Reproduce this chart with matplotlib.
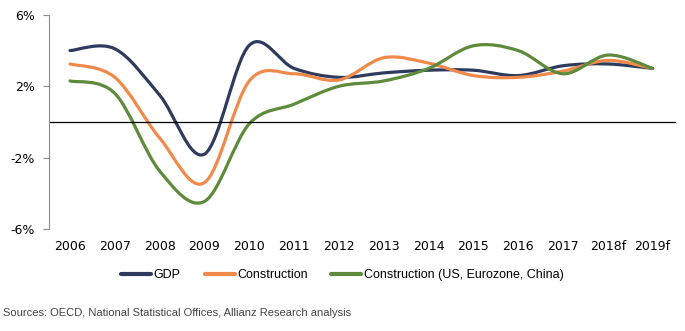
import numpy as np
import matplotlib.pyplot as plt
from matplotlib.path import Path
from matplotlib.patches import PathPatch
from matplotlib.lines import Line2D

years = ['2006', '2007', '2008', '2009', '2010', '2011', '2012', '2013',
         '2014', '2015', '2016', '2017', '2018f', '2019f']
gdp = [4.0, 4.1, 1.5, -1.8, 4.3, 3.0, 2.5, 2.75, 2.9, 2.9, 2.6, 3.15, 3.25, 3.0]
construction = [3.25, 2.5, -0.9, -3.4, 2.3, 2.7, 2.35, 3.6, 3.3, 2.6, 2.5, 2.85, 3.45, 3.0]
construction_big3 = [2.3, 1.6, -2.75, -4.45, -0.1, 1.0, 2.0, 2.3, 3.0, 4.27, 4.0, 2.7, 3.75, 3.0]

series = [('GDP', gdp, '#2f3b5e'),
          ('Construction', construction, '#f08a4b'),
          ('Construction (US, Eurozone, China)', construction_big3, '#5e8a3c')]


def smooth_path(xs, ys, tension=1 / 6):
    # cubic bezier through every point, excel-style smoothing
    pts = np.column_stack([xs, ys])
    verts = [pts[0]]
    codes = [Path.MOVETO]
    n = len(pts)
    for i in range(n - 1):
        p0 = pts[i - 1] if i > 0 else pts[i]
        p1 = pts[i]
        p2 = pts[i + 1]
        p3 = pts[i + 2] if i + 2 < n else pts[i + 1]
        c1 = p1 + (p2 - p0) * tension
        c2 = p2 - (p3 - p1) * tension
        verts += [c1, c2, p2]
        codes += [Path.CURVE4] * 3
    return Path(verts, codes)


fig = plt.figure(figsize=(6.85, 3.31), dpi=100)
ax = fig.add_axes([0.0715, 0.308, 0.916, 0.647])

x = np.arange(len(years))
for name, vals, col in series:
    ax.add_patch(PathPatch(smooth_path(x, vals), facecolor='none', edgecolor=col,
                           lw=2.3, capstyle='round', joinstyle='round'))

ax.axhline(0, color='black', lw=0.9)
ax.set_xlim(-0.47, 13.53)
ax.set_ylim(-6, 6)
ax.set_yticks([-6, -2, 2, 6])
ax.set_yticklabels(['-6%', '-2%', '2%', '6%'])
ax.set_xticks(x)
ax.set_xticklabels(years)

for s in ['top', 'right', 'bottom']:
    ax.spines[s].set_visible(False)
ax.spines['left'].set_color('#8c8c8c')
ax.tick_params(axis='y', length=4, color='#8c8c8c', labelsize=9, pad=6)
ax.tick_params(axis='x', length=0, labelsize=9, pad=8)

handles = [Line2D([0], [0], color=c, lw=3, solid_capstyle='round') for _, _, c in series]
fig.legend(handles, [n for n, _, _ in series], loc='center', bbox_to_anchor=(0.50, 0.169),
           ncol=3, frameon=False, prop={'family': 'Liberation Sans', 'size': 9},
           handlelength=2.4, handletextpad=0.2, columnspacing=1.9)

fig.text(0.005, 0.045, 'Sources: OECD, National Statistical Offices, Allianz Research analysis',
         fontsize=8.0, color='#444444', family='Liberation Sans')

fig.savefig('out.png', dpi=100)
